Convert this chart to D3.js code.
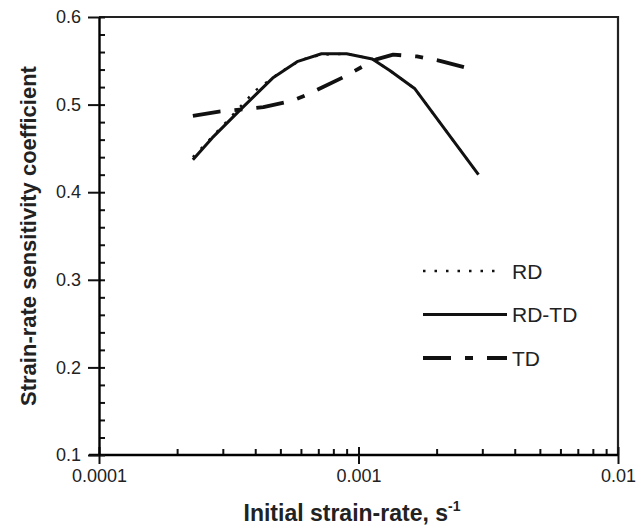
<!DOCTYPE html>
<html>
<head>
<meta charset="utf-8">
<script src="https://cdn.jsdelivr.net/npm/d3@7"></script>
<style>
  body { margin: 0; background: #fff; }
  text { font-family: "Liberation Sans", Arial, sans-serif; fill: #222; }
</style>
</head>
<body>
<div id="chart"></div>
<script>
// Data (strain rate in s^-1, coefficient m)
const rdRate   = [0.00023, 0.0003, 0.0004, 0.0005, 0.0006, 0.00072, 0.0009, 0.00113, 0.00132, 0.00165, 0.0029];
const rdM      = [0.440, 0.476, 0.516, 0.537, 0.551, 0.557, 0.558, 0.552, 0.539, 0.518, 0.420];

const rdtdRate = [0.00023, 0.000273, 0.00035, 0.00041, 0.00047, 0.00058, 0.00072, 0.0009, 0.00113, 0.00132, 0.00165, 0.0029];
const rdtdM    = [0.437, 0.462, 0.494, 0.514, 0.531, 0.549, 0.558, 0.558, 0.552, 0.539, 0.518, 0.420];

const tdRate   = [0.00023, 0.00029, 0.00043, 0.00055, 0.00063, 0.00073, 0.00087, 0.00106, 0.00118, 0.00136, 0.00168, 0.00206, 0.00286];
const tdM      = [0.487, 0.492, 0.497, 0.504, 0.511, 0.520, 0.531, 0.545, 0.552, 0.557, 0.555, 0.550, 0.539];

const seriesNames = ["RD", "RD-TD", "TD"];
const xTicks = [0.0001, 0.001, 0.01];
const xTickLabels = ["0.0001", "0.001", "0.01"];
const yTicks = [0.1, 0.2, 0.3, 0.4, 0.5, 0.6];

const W = 644, H = 529;
const plot = { left: 99, right: 618, top: 17, bottom: 455 };

const svg = d3.select("#chart").append("svg")
    .attr("width", W)
    .attr("height", H);

const x = d3.scaleLog().domain([0.0001, 0.01]).range([plot.left, plot.right]);
const y = d3.scaleLinear().domain([0.1, 0.6]).range([plot.bottom, plot.top]);

// minor ticks
const xMinor = [];
[0.0001, 0.001].forEach(dec => { for (let k = 2; k <= 9; k++) xMinor.push(dec * k); });
const yMinor = d3.range(0.1, 0.6001, 0.02).map(v => +v.toFixed(2));

// frame (top and right)
svg.append("path")
    .attr("d", `M${plot.left},${plot.top}H${plot.right}V${plot.bottom}`)
    .attr("fill", "none")
    .attr("stroke", "#222")
    .attr("stroke-width", 2.2);

// x axis: minor ticks pointing in
svg.append("g")
    .attr("transform", `translate(0,${plot.bottom})`)
    .call(d3.axisBottom(x).tickValues(xMinor).tickSize(-6).tickFormat(""))
    .call(g => g.select(".domain").remove());

// x axis: majors crossing the line, with labels
svg.append("g")
    .attr("transform", `translate(0,${plot.bottom})`)
    .call(d3.axisBottom(x).tickValues(xTicks).tickSize(-8).tickFormat(""))
    .call(g => g.select(".domain").remove());

const xAxis = svg.append("g")
    .attr("transform", `translate(0,${plot.bottom})`)
    .call(d3.axisBottom(x).tickValues(xTicks).tickSizeInner(9).tickSizeOuter(0).tickPadding(5)
        .tickFormat((d, i) => xTickLabels[i]));
xAxis.select(".domain").attr("stroke-width", 2.4).attr("d", `M${plot.left - 10},0H${plot.right}`);

// y axis: minor ticks pointing in
svg.append("g")
    .attr("transform", `translate(${plot.left},0)`)
    .call(d3.axisLeft(y).tickValues(yMinor).tickSize(-6).tickFormat(""))
    .call(g => g.select(".domain").remove());

const yAxis = svg.append("g")
    .attr("transform", `translate(${plot.left},0)`)
    .call(d3.axisLeft(y).tickValues(yTicks).tickSizeInner(11).tickSizeOuter(0).tickPadding(7)
        .tickFormat(d3.format(".1f")));
yAxis.select(".domain").attr("stroke-width", 2.4);

svg.selectAll(".tick line").attr("stroke", "#111").attr("stroke-width", 2);
svg.selectAll(".tick text").style("font-size", "18px").attr("fill", "#222");

// axis titles
svg.append("text")
    .attr("x", 352)
    .attr("y", 521)
    .attr("text-anchor", "middle")
    .style("font-size", "23px")
    .style("font-weight", "bold")
    .text("Initial strain-rate, s")
    .append("tspan")
    .attr("dy", -10)
    .style("font-size", "14px")
    .text("-1");

svg.append("text")
    .attr("transform", `translate(36,${(plot.top + plot.bottom) / 2 + 0}) rotate(-90)`)
    .attr("text-anchor", "middle")
    .style("font-size", "22px")
    .style("font-weight", "bold")
    .text("Strain-rate sensitivity coefficient");

// lines
const line = d3.line()
    .x(d => x(d[0]))
    .y(d => y(d[1]));

const styles = {
    "RD":    { dash: "2.5,9", width: 2.4 },
    "RD-TD": { dash: null, width: 3 },
    "TD":    { dash: "28,14,8,14", width: 3.8 }
};

const seriesData = {
    "RD": d3.zip(rdRate, rdM),
    "RD-TD": d3.zip(rdtdRate, rdtdM),
    "TD": d3.zip(tdRate, tdM)
};

["RD", "TD", "RD-TD"].forEach(name => {
    svg.append("path")
        .datum(seriesData[name])
        .attr("fill", "none")
        .attr("stroke", "#111")
        .attr("stroke-width", styles[name].width)
        .attr("stroke-dasharray", styles[name].dash)
        .attr("stroke-linejoin", "round")
        .attr("d", line);
});

// legend
const legend = svg.append("g").attr("transform", "translate(423,271)");
seriesNames.forEach((name, i) => {
    legend.append("line")
        .attr("x1", 0).attr("x2", name === "RD" ? 78 : 84)
        .attr("y1", i * 43.5).attr("y2", i * 43.5)
        .attr("stroke", "#111")
        .attr("stroke-width", styles[name].width)
        .attr("stroke-dasharray", styles[name].dash);
    legend.append("text")
        .attr("x", 89)
        .attr("y", i * 43.5)
        .attr("dy", "0.36em")
        .style("font-size", "21px")
        .text(name);
});
</script>
</body>
</html>
